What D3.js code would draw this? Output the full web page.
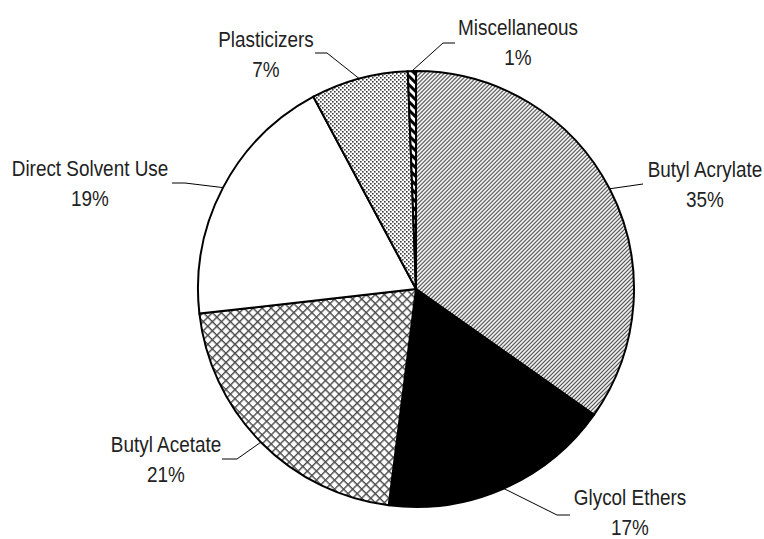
<!DOCTYPE html>
<html>
	<head>
		<meta charset="utf-8">
		<script src="https://d3js.org/d3.v7.min.js"></script>
		<style>
		body { margin: 0; background: #fff; }
		text { font-family: "Liberation Sans Narrow", "Arial Narrow", "Liberation Sans", sans-serif; font-size: 22px; fill: #222; }
		</style>
	</head>
	<body>
		<div id="pie"></div>
	</body>

<script>

// slices, clockwise from 12 o'clock
var categories = ["Butyl Acrylate", "Glycol Ethers", "Butyl Acetate", "Direct Solvent Use", "Plasticizers", "Miscellaneous"];
var shares = [34.8, 17.2, 21.2, 19.0, 7.2, 0.6];
var fills = ["url(#diag)", "#000", "url(#cross)", "#fff", "url(#dots)", "url(#misc)"];

// label layout: text centre / first baseline, elbow of the leader, end of the leader
var labelAt = [[705, 177], [630, 505], [166, 452], [90, 176], [266, 47], [518, 35]];
var elbowAt = [[643, 184], [557, 515], [237, 459], [185, 183], [327, 53], [443, 43]];
var endAt = [[643, 184], [570, 515], [222, 459], [172, 183], [315, 53], [455, 43]];

var width = 764,
	height = 539,
	cx = 416,
	cy = 289,
	radius = 218,
	squeeze = 0.86; // no narrow font installed, so squeeze the regular one

var data = categories.map(function(c, i) { return {category: c, value: shares[i], i: i}; });

var pie = d3.pie()
	.sort(null)
	.value(function(d) { return d.value; })(data);

var arc = d3.arc()
	.innerRadius(0)
	.outerRadius(radius);

var svg = d3.select("#pie")
	.append("svg")
	.attr("width", width)
	.attr("height", height);

// fill patterns
var defs = svg.append("defs");

var p = defs.append("pattern").attr("id", "diag")
	.attr("patternUnits", "userSpaceOnUse")
	.attr("width", 2.83).attr("height", 2.83)
	.attr("patternTransform", "rotate(45)");
p.append("rect").attr("width", 2.83).attr("height", 2.83).attr("fill", "#fff");
p.append("rect").attr("width", 1.15).attr("height", 2.83).attr("fill", "#444");

p = defs.append("pattern").attr("id", "cross")
	.attr("patternUnits", "userSpaceOnUse")
	.attr("width", 6.4).attr("height", 6.4)
	.attr("patternTransform", "rotate(45)");
p.append("rect").attr("width", 6.4).attr("height", 6.4).attr("fill", "#fff");
p.append("rect").attr("width", 1.4).attr("height", 6.4).attr("fill", "#4a4a4a");
p.append("rect").attr("width", 6.4).attr("height", 1.4).attr("fill", "#4a4a4a");

p = defs.append("pattern").attr("id", "dots")
	.attr("patternUnits", "userSpaceOnUse")
	.attr("width", 4).attr("height", 4);
p.append("rect").attr("width", 4).attr("height", 4).attr("fill", "#fff");
p.append("rect").attr("x", 0).attr("y", 0).attr("width", 1.6).attr("height", 1.6).attr("fill", "#3a3a3a");
p.append("rect").attr("x", 2).attr("y", 2).attr("width", 1.6).attr("height", 1.6).attr("fill", "#3a3a3a");

p = defs.append("pattern").attr("id", "misc")
	.attr("patternUnits", "userSpaceOnUse")
	.attr("width", 6).attr("height", 6)
	.attr("patternTransform", "rotate(-45)");
p.append("rect").attr("width", 6).attr("height", 6).attr("fill", "#fff");
p.append("rect").attr("width", 3).attr("height", 6).attr("fill", "#000");

var g = svg.append("g")
	.attr("transform", "translate(" + cx + "," + cy + ")");

g.selectAll("path.slice")
	.data(pie)
	.enter().append("path")
	.attr("class", "slice")
	.attr("d", arc)
	.attr("fill", function(d) { return fills[d.data.i]; })
	.attr("stroke", "#000")
	.attr("stroke-width", 2)
	.attr("stroke-linejoin", "round");

// leader lines start on the rim at each slice's middle angle
var rim = d3.arc().innerRadius(radius).outerRadius(radius);

svg.selectAll("polyline.leader")
	.data(pie)
	.enter().append("polyline")
	.attr("class", "leader")
	.attr("points", function(d) {
		var c = rim.centroid(d);
		var i = d.data.i;
		return [[cx + c[0], cy + c[1]], elbowAt[i], endAt[i]].map(function(q) { return q.join(","); }).join(" ");
	})
	.attr("fill", "none")
	.attr("stroke", "#000")
	.attr("stroke-width", 1);

var lab = svg.selectAll("g.label")
	.data(pie)
	.enter().append("g")
	.attr("class", "label")
	.attr("transform", function(d) {
		var q = labelAt[d.data.i];
		return "translate(" + q[0] + "," + q[1] + ") scale(" + squeeze + ",1)";
	})
	.append("text")
	.attr("text-anchor", "middle");

lab.append("tspan")
	.attr("x", 0)
	.text(function(d) { return d.data.category; });
lab.append("tspan")
	.attr("x", 0)
	.attr("dy", 30)
	.text(function(d) { return Math.round(d.data.value) + "%"; });

</script>
</html>
